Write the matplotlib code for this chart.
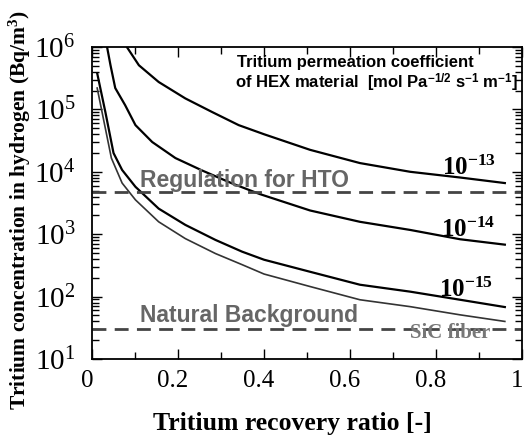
import numpy as np
import matplotlib
matplotlib.use('Agg')
import matplotlib.pyplot as plt
import matplotlib.transforms as mtransforms
from matplotlib.ticker import LogLocator, MultipleLocator

plt.rcParams['font.family'] = ['Liberation Serif', 'DejaVu Serif']
plt.rcParams['mathtext.fontset'] = 'custom'
plt.rcParams['mathtext.rm'] = 'Liberation Serif'
plt.rcParams['mathtext.bf'] = 'Liberation Serif:bold'
plt.rcParams['mathtext.it'] = 'Liberation Serif:italic'
plt.rcParams['mathtext.sf'] = 'Liberation Sans:bold'

# curves (x = recovery ratio, y = Bq/m3)
x_13 = [0.076, 0.081, 0.109, 0.155, 0.217, 0.279, 0.341, 0.40, 0.507, 0.623, 0.74, 0.856, 0.96]
y_13 = [1.2e6, 1.0e6, 5.1e5, 2.75e5, 1.5e5, 9.1e4, 5.6e4, 4.0e4, 2.25e4, 1.38e4, 1.0e4, 8.1e3, 6.6e3]

x_14 = [0.032, 0.035, 0.043, 0.054, 0.077, 0.101, 0.14, 0.194, 0.256, 0.326, 0.39, 0.507, 0.623,
        0.74, 0.856, 0.96]
y_14 = [1.25e6, 1.0e6, 5.1e5, 2.2e5, 1.17e5, 5.6e4, 3.0e4, 1.66e4, 1.05e4, 6.5e3, 4.4e3, 2.4e3,
        1.58e3, 1.17e3, 830, 680]

x_15 = [0.012, 0.031, 0.05, 0.07, 0.101, 0.155, 0.217, 0.287, 0.349, 0.40, 0.507, 0.623, 0.74,
        0.856, 0.96]
y_15 = [3.8e5, 9.1e4, 2.0e4, 1.07e4, 5.75e3, 2.57e3, 1.41e3, 810, 525, 390, 250, 155, 120, 89, 68]

x_sic = [0.012, 0.045, 0.07, 0.101, 0.155, 0.217, 0.287, 0.349, 0.40, 0.507, 0.623, 0.74, 0.856,
         0.96]
y_sic = [2.2e5, 1.66e4, 6.6e3, 3.55e3, 1.58e3, 850, 490, 325, 230, 145, 89, 69, 51, 40]

hto_limit = 4800
background = 30

fig = plt.figure(figsize=(5.27, 4.36), dpi=100)
ax = fig.add_axes([0.1746, 0.1766, 0.816, 0.7156])

ax.plot(x_13, y_13, color='black', lw=1.6)
ax.plot(x_14, y_14, color='black', lw=1.6)
ax.plot(x_15, y_15, color='black', lw=1.6)
ax.plot(x_sic, y_sic, color='#333333', lw=1.2)

ax.axhline(hto_limit, color='#444444', lw=2.0, dashes=(5, 3))
ax.axhline(background, color='#444444', lw=2.0, dashes=(5, 3))

ax.set_yscale('log')
ax.set_xlim(0, 1)
ax.set_ylim(10, 1e6)
ax.xaxis.set_minor_locator(MultipleLocator(0.1))
ax.yaxis.set_major_locator(LogLocator(base=10, numticks=10))
ax.yaxis.set_minor_locator(LogLocator(base=10, subs=np.arange(2, 10), numticks=10))
ax.set_xticks([0, 0.2, 0.4, 0.6, 0.8, 1.0])
ax.set_xticklabels(['0', '0.2', '0.4', '0.6', '0.8', '1'])
ax.tick_params(which='both', direction='in', top=True, right=True, width=1.0)
ax.tick_params(axis='x', labelsize=18, pad=8)
ax.tick_params(axis='y', labelsize=21, pad=12)
ax.tick_params(which='major', length=7)
ax.tick_params(which='minor', length=5)
shift = mtransforms.ScaledTranslation(-5 / 100, 0, fig.dpi_scale_trans)
for lab in ax.get_xticklabels():
    lab.set_transform(lab.get_transform() + shift)
for s in ax.spines.values():
    s.set_linewidth(1.3)

ax.set_xlabel('Tritium recovery ratio [-]', fontsize=18.5, fontweight='bold')
ax.xaxis.set_label_coords(0.465, -0.17)
ax.set_ylabel('Tritium concentration in hydrogen (Bq/m$^\\mathbf{3}$)', fontsize=15.5,
              fontweight='bold')
ax.yaxis.set_label_coords(-0.137, 0.478)

sans = ['Liberation Sans', 'DejaVu Sans']
ax.text(0.337, 0.949, 'Tritium permeation coefficient', transform=ax.transAxes,
        family=sans, fontsize=12, fontweight='bold', ha='left', va='center')
ax.text(0.333, 0.886,
        'of HEX material  [mol Pa$^{\\mathsf{-1/2}}$ s$^{\\mathsf{-1}}$ m$^{\\mathsf{-1}}$]',
        transform=ax.transAxes, family=sans, fontsize=12, fontweight='bold',
        ha='left', va='center')
ax.text(0.112, 5.7e3, 'Regulation for HTO', family=sans, fontsize=16.5, fontweight='bold',
        color='#666666', ha='left', va='baseline')
ax.text(0.112, 39, 'Natural Background', family=sans, fontsize=16.5, fontweight='bold',
        color='#666666', ha='left', va='baseline')
ax.text(0.832, 26, 'SiC fiber', fontsize=15, fontweight='bold', color='#777777',
        ha='center', va='center')

ax.text(0.877, 8.9e3, '$\\mathbf{10^{-13}}$', fontsize=18, ha='center', va='baseline')
ax.text(0.874, 900, '$\\mathbf{10^{-14}}$', fontsize=18, ha='center', va='baseline')
ax.text(0.87, 98, '$\\mathbf{10^{-15}}$', fontsize=18, ha='center', va='baseline')

fig.savefig('out.png', dpi=100)
